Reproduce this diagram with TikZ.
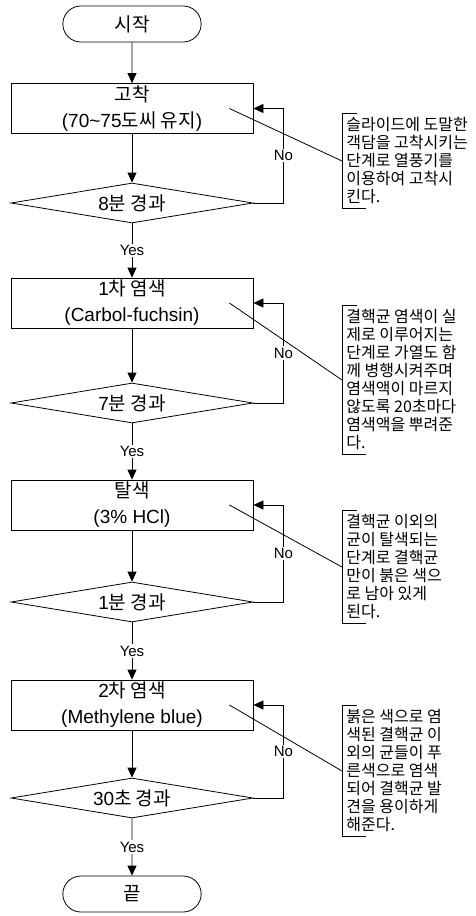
\documentclass[tikz,border=0pt]{standalone}
\usepackage{fontspec}
\setmainfont{Liberation Sans}
\newfontfamily\kr{Noto Sans CJK KR}
\usetikzlibrary{arrows.meta,shapes.geometric,shapes.misc}

\begin{document}
\begin{tikzpicture}[x=1pt,y=-1pt,line width=0.8pt,
  term/.style={draw,rounded rectangle,minimum width=145pt,minimum height=36pt,font=\fontsize{19}{24}\selectfont},
  proc/.style={draw,rectangle,minimum width=242pt,minimum height=50pt,inner sep=0pt,align=center,font=\fontsize{19}{26}\selectfont},
  test/.style={draw,diamond,aspect=6,minimum width=242pt,minimum height=40pt,inner sep=0pt,font=\fontsize{19}{24}\selectfont},
  note/.style={align=left,inner xsep=4pt,inner ysep=4pt,font=\kr\fontsize{16}{18}\selectfont},
  lbl/.style={fill=white,inner sep=1.5pt,font=\fontsize{15}{18}\selectfont},
  arr/.style={-{Triangle[length=10pt,width=9pt]}}]

\useasboundingbox (0,0) rectangle (476,916);

\node[term] (start) at (132,24) {\kr 시작};
\node[proc] (b1) at (132,108.5) {{\kr 고착}\\(70\textasciitilde75{\kr 도씨 유지})};
\node[test] (d1) at (132,203) {8{\kr 분 경과}};
\node[proc] (b2) at (132,303) {1{\kr 차 염색}\\(Carbol-fuchsin)};
\node[test] (d2) at (132,403) {7{\kr 분 경과}};
\node[proc] (b3) at (132,505) {{\kr 탈색}\\(3\% HCl)};
\node[test] (d3) at (132,602) {1{\kr 분 경과}};
\node[proc] (b4) at (132,705) {2{\kr 차 염색}\\(Methylene blue)};
\node[test] (d4) at (132,798) {30{\kr 초 경과}};
\node[term] (end) at (132,894) {\kr 끝};

\draw[arr] (start) -- (b1);
\draw[arr] (b1) -- (d1);
\draw[arr] (d1) -- (b2) node[lbl,midway] {Yes};
\draw[arr] (b2) -- (d2);
\draw[arr] (d2) -- (b3) node[lbl,midway] {Yes};
\draw[arr] (b3) -- (d3);
\draw[arr] (d3) -- (b4) node[lbl,midway] {Yes};
\draw[arr] (b4) -- (d4);
\draw[arr] (d4) -- (end) node[lbl,midway] {Yes};

% loops back when time is not over
\draw[arr] (d1.east) -- ++(30,0) |- (b1.east) node[lbl,pos=0.25] {No};
\draw[arr] (d2.east) -- ++(30,0) |- (b2.east) node[lbl,pos=0.25] {No};
\draw[arr] (d3.east) -- ++(30,0) |- (b3.east) node[lbl,pos=0.25] {No};
\draw[arr] (d4.east) -- ++(30,0) |- (b4.east) node[lbl,pos=0.25] {No};

% side notes
\node[note,anchor=west] (n1) at (342,161) {슬라이드에 도말한\\객담을 고착시키는\\단계로 열풍기를\\이용하여 고착시\\킨다.};
\node[note,anchor=west] (n2) at (342,380) {결핵균 염색이 실\\제로 이루어지는\\단계로 가열도 함\\께 병행시켜주며\\염색액이 마르지\\않도록 20초마다\\염색액을 뿌려준\\다.};
\node[note,anchor=west] (n3) at (342,567) {결핵균 이외의\\균이 탈색되는\\단계로 결핵균\\만이 붉은 색으\\로 남아 있게\\된다.};
\node[note,anchor=west] (n4) at (342,771) {붉은 색으로 염\\색된 결핵균 이\\외의 균들이 푸\\른색으로 염색\\되어 결핵균 발\\견을 용이하게\\해준다.};

\draw ([xshift=15pt]n1.north west) -- (n1.north west) -- (n1.south west) -- ([xshift=24pt]n1.south west);
\draw ([xshift=15pt]n2.north west) -- (n2.north west) -- (n2.south west) -- ([xshift=24pt]n2.south west);
\draw ([xshift=15pt]n3.north west) -- (n3.north west) -- (n3.south west) -- ([xshift=24pt]n3.south west);
\draw ([xshift=15pt]n4.north west) -- (n4.north west) -- (n4.south west) -- ([xshift=24pt]n4.south west);

\draw ([xshift=-24pt]b1.east) -- (n1.west);
\draw ([xshift=-24pt]b2.east) -- (n2.west);
\draw ([xshift=-24pt]b3.east) -- (n3.west);
\draw ([xshift=-24pt]b4.east) -- (n4.west);

\end{tikzpicture}
\end{document}
